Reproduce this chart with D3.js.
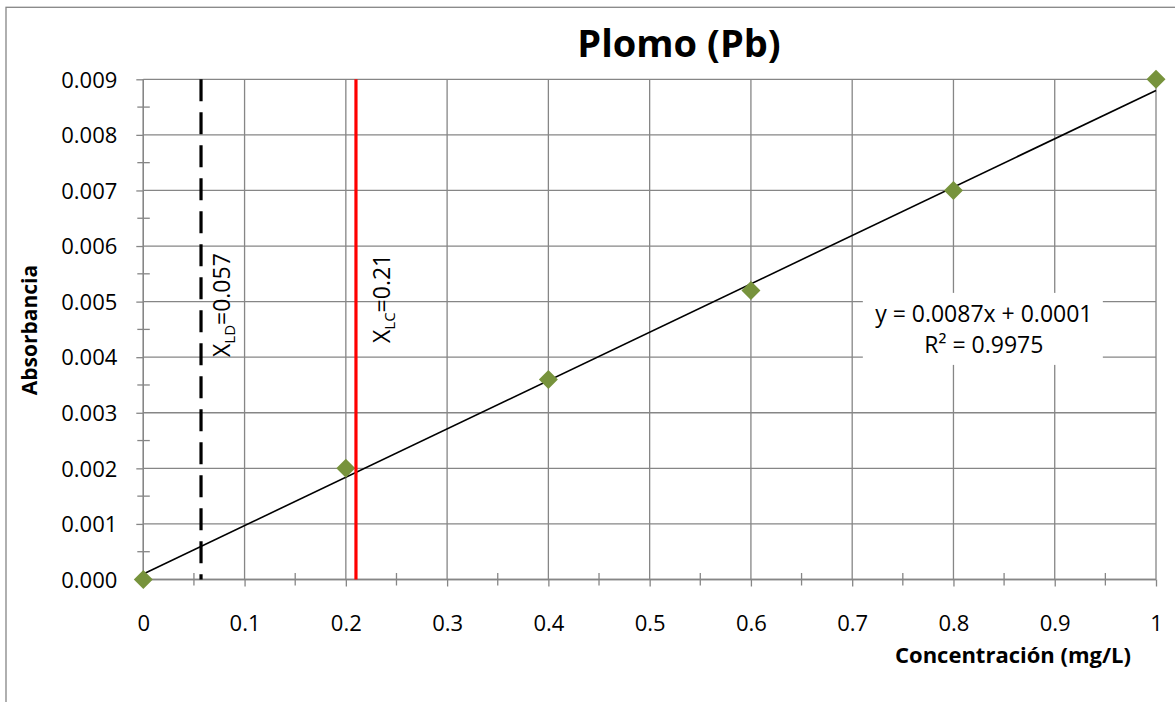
<!DOCTYPE html>
<html>
<head>
<meta charset="utf-8">
<script src="https://cdn.jsdelivr.net/npm/d3@7"></script>
<style>
  body { margin: 0; background: #fff; }
  svg text { font-family: "Open Sans", "Noto Sans", sans-serif; fill: #000; }
  .grid line, .axis line, .axis path { stroke: #868686; stroke-width: 1.3; }
</style>
</head>
<body>
<div id="chart"></div>
<script>
// data
const concentration = [0, 0.2, 0.4, 0.6, 0.8, 1];
const absorbance = [0, 0.002, 0.0036, 0.0052, 0.007, 0.009];
const fitSlope = 0.0087, fitIntercept = 0.0001, fitR2 = 0.9975;
const limitNames = ["LD", "LC"];
const limitValues = [0.057, 0.21];
const xTickValues = [0, 0.1, 0.2, 0.3, 0.4, 0.5, 0.6, 0.7, 0.8, 0.9, 1];
const yTickValues = [0, 0.001, 0.002, 0.003, 0.004, 0.005, 0.006, 0.007, 0.008, 0.009];
const xTickLabels = ["0", "0.1", "0.2", "0.3", "0.4", "0.5", "0.6", "0.7", "0.8", "0.9", "1"];
const yTickLabels = ["0.000", "0.001", "0.002", "0.003", "0.004", "0.005", "0.006", "0.007", "0.008", "0.009"];

const width = 1175, height = 702;
const plot = { left: 143.3, right: 1156, top: 79.3, bottom: 579.5 };

const svg = d3.select('#chart').append('svg')
  .attr('width', width)
  .attr('height', height);

// chart frame (clipped at right / bottom like the source)
svg.append('rect')
  .attr('x', 6).attr('y', 7.3)
  .attr('width', 1400).attr('height', 900)
  .attr('fill', 'none')
  .attr('stroke', '#868686')
  .attr('stroke-width', 1.3);

const x = d3.scaleLinear().domain([0, 1]).range([plot.left, plot.right]);
const y = d3.scaleLinear().domain([0, 0.009]).range([plot.bottom, plot.top]);

// gridlines
const grid = svg.append('g').attr('class', 'grid');
grid.selectAll('line.v').data(xTickValues).enter()
  .append('line').attr('class', 'v')
  .attr('x1', d => x(d)).attr('x2', d => x(d))
  .attr('y1', plot.top).attr('y2', plot.bottom);
grid.selectAll('line.h').data(yTickValues).enter()
  .append('line').attr('class', 'h')
  .attr('x1', plot.left).attr('x2', plot.right)
  .attr('y1', d => y(d)).attr('y2', d => y(d));

// minor ticks (cross style)
const minorX = xTickValues.slice(0, -1).map(d => d + 0.05);
const minorY = yTickValues.slice(0, -1).map(d => d + 0.0005);
grid.selectAll('line.mx').data(minorX).enter()
  .append('line').attr('class', 'mx')
  .attr('x1', d => x(d)).attr('x2', d => x(d))
  .attr('y1', plot.bottom - 6.5).attr('y2', plot.bottom + 6);
grid.selectAll('line.my').data(minorY).enter()
  .append('line').attr('class', 'my')
  .attr('x1', plot.left - 6).attr('x2', plot.left + 6.5)
  .attr('y1', d => y(d)).attr('y2', d => y(d));

// axes
const xAxis = d3.axisBottom(x).tickValues(xTickValues)
  .tickFormat((d, i) => xTickLabels[i]).tickSize(7);
const yAxis = d3.axisLeft(y).tickValues(yTickValues)
  .tickFormat((d, i) => yTickLabels[i]).tickSize(7);

const gx = svg.append('g').attr('class', 'axis')
  .attr('transform', 'translate(0,' + plot.bottom + ')')
  .call(xAxis);
gx.select('.domain').attr('d', 'M' + plot.left + ',0H' + plot.right);
gx.selectAll('text')
  .attr('y', 43.5).attr('dy', '0.35em')
  .style('font-size', '22px');

const gy = svg.append('g').attr('class', 'axis')
  .attr('transform', 'translate(' + plot.left + ',0)')
  .call(yAxis);
gy.select('.domain').attr('d', 'M0,' + plot.top + 'V' + plot.bottom);
gy.selectAll('text')
  .attr('x', -26).attr('dy', '0.35em')
  .style('font-size', '22px');

// trendline
svg.append('line')
  .attr('x1', x(0)).attr('y1', y(fitIntercept))
  .attr('x2', x(1)).attr('y2', y(fitSlope + fitIntercept))
  .attr('stroke', '#000')
  .attr('stroke-width', 1.6);

// data points (diamonds)
svg.selectAll('path.pt').data(concentration).enter()
  .append('path').attr('class', 'pt')
  .attr('transform', (d, i) => 'translate(' + x(d) + ',' + y(absorbance[i]) + ')')
  .attr('d', 'M0,-9.5L9.5,0L0,9.5L-9.5,0Z')
  .attr('fill', '#77933C');

// detection / quantification limits
const limitStyle = [
  { color: '#000', dash: '22,11' },
  { color: '#FF0000', dash: null }
];
svg.selectAll('line.limit').data(limitValues).enter()
  .append('line').attr('class', 'limit')
  .attr('x1', d => x(d)).attr('x2', d => x(d))
  .attr('y1', plot.top).attr('y2', plot.bottom)
  .attr('stroke', (d, i) => limitStyle[i].color)
  .attr('stroke-width', 3.2)
  .attr('stroke-dasharray', (d, i) => limitStyle[i].dash);

const labelOffsets = [[29, 357], [34, 343]];
limitValues.forEach((v, i) => {
  const t = svg.append('text')
    .attr('transform', 'translate(' + (x(v) + labelOffsets[i][0]) + ',' + labelOffsets[i][1] + ') rotate(-90)')
    .style('font-size', '23px');
  t.append('tspan').text('X');
  t.append('tspan').text(limitNames[i])
    .attr('dy', 5).style('font-size', '15px');
  t.append('tspan').text('=' + v)
    .attr('dy', -5);
});

// equation box
const eqX = x(0.83), eqY = y(0.0045);
svg.append('rect')
  .attr('x', eqX - 121).attr('y', eqY - 36.5)
  .attr('width', 240).attr('height', 72)
  .attr('fill', '#fff');
svg.append('text')
  .attr('x', eqX).attr('y', eqY - 7)
  .attr('text-anchor', 'middle')
  .style('font-size', '23px')
  .text('y = ' + fitSlope + 'x + ' + fitIntercept);
svg.append('text')
  .attr('x', eqX).attr('y', eqY + 23.5)
  .attr('text-anchor', 'middle')
  .style('font-size', '23px')
  .text('R² = ' + fitR2);

// titles
svg.append('text')
  .attr('x', 679).attr('y', 57)
  .attr('text-anchor', 'middle')
  .style('font-size', '38px').style('font-weight', 'bold')
  .text('Plomo (Pb)');

svg.append('text')
  .attr('x', 1013).attr('y', 663)
  .attr('text-anchor', 'middle')
  .style('font-size', '22px').style('font-weight', 'bold')
  .text('Concentración (mg/L)');

svg.append('text')
  .attr('transform', 'translate(37,330) rotate(-90)')
  .attr('text-anchor', 'middle')
  .style('font-size', '21px').style('font-weight', 'bold')
  .text('Absorbancia');
</script>
</body>
</html>
